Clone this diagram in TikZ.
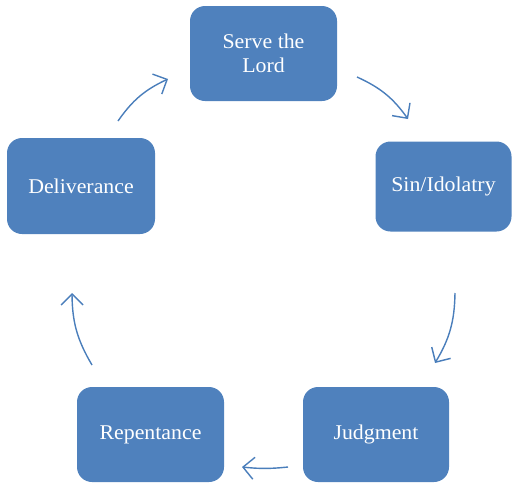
\documentclass[tikz,border=0pt]{standalone}
\usepackage{fontspec}
\setmainfont[FakeStretch=1.04]{Liberation Serif}
\usetikzlibrary{arrows.meta}
\definecolor{boxblue}{HTML}{4F81BD}
\definecolor{arrowblue}{HTML}{4A7EBB}
\begin{document}
\begin{tikzpicture}[x=1pt,y=-1pt,
  stagebox/.style={fill=boxblue, draw=none, rounded corners=15pt, text=white,
    font=\fontsize{21}{24}\selectfont, align=center, inner sep=0pt},
  cyclearrow/.style={draw=arrowblue, line width=1.4pt,
    -{Straight Barb[length=11pt,width=22pt,line width=1.4pt]}}]
\useasboundingbox (0,0) rectangle (512,483);
\node[stagebox, minimum width=147pt, minimum height=95pt] (serve) at (263.5,53.5) {Serve the\\Lord};
\node[stagebox, minimum width=136pt, minimum height=90pt] (sin) at (443.5,186.5) {Sin/Idolatry};
\node[stagebox, minimum width=146pt, minimum height=95pt] (judg) at (376,434.5) {Judgment};
\node[stagebox, minimum width=147pt, minimum height=95pt] (rep) at (150.5,434.5) {Repentance};
\node[stagebox, minimum width=148pt, minimum height=96pt] (del) at (81,186) {Deliverance};
\coordinate (a1s) at (118,121); \coordinate (a1e) at (168,79);
\coordinate (a2s) at (357,77);  \coordinate (a2e) at (408,119);
\coordinate (a3s) at (455,293); \coordinate (a3e) at (435,363);
\coordinate (a4s) at (288,467); \coordinate (a4e) at (242,467);
\coordinate (a5s) at (92,365);  \coordinate (a5e) at (72,293);
\draw[cyclearrow] (a1s) to[bend left=15] (a1e);
\draw[cyclearrow] (a2s) to[bend left=15] (a2e);
\draw[cyclearrow] (a3s) to[bend left=15] (a3e);
\draw[cyclearrow] (a4s) to[bend left=6] (a4e);
\draw[cyclearrow] (a5s) to[bend left=15] (a5e);
\end{tikzpicture}
\end{document}
